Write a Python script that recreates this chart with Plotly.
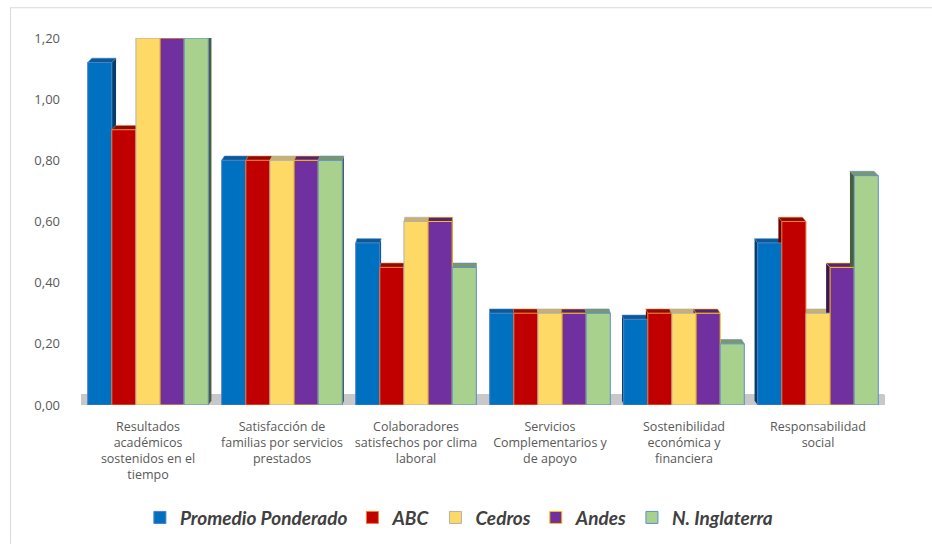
import plotly.graph_objects as go

# Indicator categories (x axis) and institutions (series)
categories = [
    "Resultados<br>académicos<br>sostenidos en el<br>tiempo",
    "Satisfacción de<br>familias por servicios<br>prestados",
    "Colaboradores<br>satisfechos por clima<br>laboral",
    "Servicios<br>Complementarios y<br>de apoyo",
    "Sostenibilidad<br>económica y<br>financiera",
    "Responsabilidad<br>social",
]

promedio_ponderado = [1.12, 0.80, 0.53, 0.30, 0.28, 0.53]
abc = [0.90, 0.80, 0.45, 0.30, 0.30, 0.60]
cedros = [1.20, 0.80, 0.60, 0.30, 0.30, 0.30]
andes = [1.20, 0.80, 0.60, 0.30, 0.30, 0.45]
n_inglaterra = [1.20, 0.80, 0.45, 0.30, 0.20, 0.75]

y_tickvals = [0, 0.2, 0.4, 0.6, 0.8, 1.0, 1.2]
y_ticktext = ["0,00", "0,20", "0,40", "0,60", "0,80", "1,00", "1,20"]

series = [
    ("Promedio Ponderado", promedio_ponderado, "#0070C0", "#4A7FC8", "#0A5A96", "#063E6B"),
    ("ABC", abc, "#C00000", "#ED7D31", "#8E0A05", "#6A0000"),
    ("Cedros", cedros, "#FFD966", "#B0B0B0", "#C8B070", "#8C7A45"),
    ("Andes", andes, "#7030A0", "#FFC000", "#55237A", "#3A1656"),
    ("N. Inglaterra", n_inglaterra, "#A9D18E", "#5B8FD0", "#7C9868", "#4A5E3C"),
]

fig = go.Figure()
for name, vals, fill, edge, _, _ in series:
    fig.add_trace(go.Bar(
        name=name, x=categories, y=vals,
        marker=dict(color=fill, line=dict(color=edge, width=1)),
        hoverinfo="x+y+name",
    ))

n_series = len(series)
group_w = 0.9
bar_w = group_w / n_series
depth_y = 0.014
shapes = []

# Grey floor under the bars
shapes.append(dict(
    type="path", xref="x", yref="y", layer="below",
    path="M -0.56 -0.002 L 5.59 -0.002 L 5.49 0.036 L -0.53 0.036 Z",
    fillcolor="#C8C8C8", line=dict(width=0),
))

# Depth faces (side and top) give the bars a 3-D look
for i, (name, vals, fill, edge, top_c, side_c) in enumerate(series):
    for c, v in enumerate(vals):
        xl = c - group_w / 2 + bar_w * i
        xr = xl + bar_w
        xc = (xl + xr) / 2
        dx = -(xc - 2.5) * 0.011
        xe = xr if dx > 0 else xl
        shapes.append(dict(
            type="path", xref="x", yref="y", layer="below",
            path=f"M {xe} 0 L {xe} {v} L {xe+dx} {v+depth_y} L {xe+dx} {depth_y} Z",
            fillcolor=side_c, line=dict(width=0),
        ))
        shapes.append(dict(
            type="path", xref="x", yref="y", layer="below",
            path=f"M {xl} {v} L {xr} {v} L {xr+dx} {v+depth_y} L {xl+dx} {v+depth_y} Z",
            fillcolor=top_c, line=dict(color=edge, width=0.6),
        ))

# Chart frame
shapes.append(dict(type="line", xref="paper", yref="paper",
                   x0=-81 / 804 + 10.5 / 804, x1=-81 / 804 + 10.5 / 804,
                   y0=-140 / 370, y1=(548 - 7.5 - 140) / 370,
                   line=dict(color="#D9D9D9", width=1)))
shapes.append(dict(type="line", xref="paper", yref="paper",
                   x0=-81 / 804 + 10 / 804, x1=(932 - 81) / 804,
                   y0=(548 - 7.5 - 140) / 370, y1=(548 - 7.5 - 140) / 370,
                   line=dict(color="#D9D9D9", width=1)))

fig.update_layout(
    width=932, height=548,
    margin=dict(l=81, r=47, t=38, b=140),
    paper_bgcolor="white", plot_bgcolor="white",
    barmode="group", bargap=0.1, bargroupgap=0,
    shapes=shapes,
    font=dict(family="Open Sans, Liberation Sans, sans-serif", color="#595959"),
    xaxis=dict(
        type="category", range=[-0.5, 5.5], showgrid=False, showline=False,
        zeroline=False, ticks="", tickfont=dict(size=12.5, color="#595959"),
        ticklabelstandoff=12,
    ),
    yaxis=dict(
        range=[0, 1.2], tickvals=y_tickvals, ticktext=y_ticktext,
        showgrid=False, zeroline=False, showline=False, ticks="",
        tickfont=dict(size=13, color="#595959"), ticklabelstandoff=20,
    ),
    legend=dict(
        orientation="h", x=0.47, xanchor="center", y=-0.255, yanchor="top",
        font=dict(family="Lato, Open Sans, sans-serif", size=19, color="#404040",
                  style="italic", weight="bold"),
        itemwidth=30, traceorder="normal",
    ),
    showlegend=True,
)

fig.write_html("out.html")
